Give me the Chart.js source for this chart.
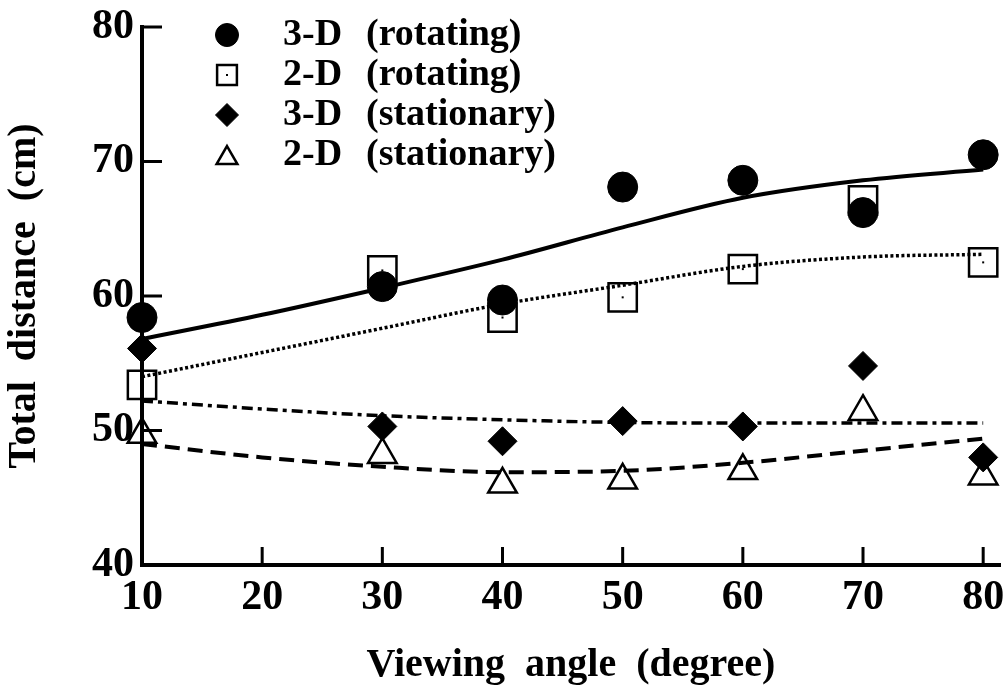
<!DOCTYPE html>
<html>
<head>
<meta charset="utf-8">
<script src="https://cdn.jsdelivr.net/npm/chart.js@4/dist/chart.umd.min.js"></script>
<style>
  html, body { margin: 0; padding: 0; background: #fff; }
  #wrap { width: 1004px; height: 688px; }
</style>
</head>
<body>
<div id="wrap"><canvas id="chart" width="1004" height="688"></canvas></div>
<script>
// Total distance vs viewing angle · four display conditions

const angles = [10, 30, 40, 50, 60, 70, 80];
const rot3d = [58.4, 60.7, 59.7, 68.1, 68.6, 66.2, 70.5];
const rot2d = [53.4, 61.9, 58.4, 59.9, 62.0, 67.1, 62.5];
const sta3d = [56.1, 50.3, 49.2, 50.7, 50.3, 54.8, 48.0];
const sta2d = [49.7, 48.2, 46.0, 46.3, 47.0, 51.4, 46.6];

// fitted curves
const fitAngles = [10, 20, 30, 40, 50, 60, 70, 80];
const fitRot3d = [56.8, 58.6, 60.6, 62.7, 65.1, 67.3, 68.6, 69.4];
const fitRot2d = [54.0, 55.8, 57.6, 59.4, 60.8, 62.2, 62.9, 63.1];
const fitSta3d = [52.2, 51.6, 51.1, 50.8, 50.6, 50.55, 50.55, 50.55];
const fitSta2d = [49.0, 48.0, 47.3, 46.9, 47.0, 47.6, 48.5, 49.4];

const xTicks = [10, 20, 30, 40, 50, 60, 70, 80];
const yTicks = [40, 50, 60, 70, 80];
const seriesNames = ['3-D  (rotating)', '2-D  (rotating)', '3-D  (stationary)', '2-D  (stationary)'];

const SERIF = '"Liberation Serif", "DejaVu Serif", serif';
const pts = (ys) => angles.map((a, i) => ({ x: a, y: ys[i] }));
const fit = (ys) => fitAngles.map((a, i) => ({ x: a, y: ys[i] }));

// marker look per series (same order as seriesNames)
const MARKERS = [
  { pointStyle: 'circle',   radius: 15,   fill: '#000',          lw: 1,   legendR: 11.5 },
  { pointStyle: 'rect',     radius: 20,   fill: 'rgba(0,0,0,0)', lw: 2.5, legendR: 14 },
  { pointStyle: 'rectRot',  radius: 14.5, fill: '#000',          lw: 1,   legendR: 11.5 },
  { pointStyle: 'triangle', radius: 16.5, fill: 'rgba(0,0,0,0)', lw: 2.5, legendR: 12 },
];

function markerSet(i, ys, order) {
  const m = MARKERS[i];
  return {
    label: seriesNames[i], data: pts(ys), showLine: false, order, clip: false,
    pointStyle: m.pointStyle, pointRadius: m.radius, pointHoverRadius: m.radius,
    pointBackgroundColor: m.fill, pointBorderColor: '#000', pointBorderWidth: m.lw,
  };
}

function fitSet(ys, dash, width, order) {
  return {
    label: 'fit', data: fit(ys), showLine: true, order, clip: false,
    borderColor: '#000', borderWidth: width, borderDash: dash,
    pointRadius: 0, tension: 0.4, cubicInterpolationMode: 'monotone', fill: false,
  };
}

// inward tick marks, drawn from the scales
const innerTicks = {
  id: 'innerTicks',
  beforeDatasetsDraw(chart) {
    const { x, y } = chart.scales;
    const ctx = chart.ctx;
    ctx.save();
    ctx.strokeStyle = '#000';
    ctx.lineWidth = 3;
    ctx.beginPath();
    yTicks.slice(1).forEach(v => {
      const py = y.getPixelForValue(v);
      ctx.moveTo(x.left, py); ctx.lineTo(x.left + 20, py);
    });
    xTicks.slice(1).forEach(v => {
      const px = x.getPixelForValue(v);
      ctx.moveTo(px, y.bottom); ctx.lineTo(px, y.bottom - 18);
    });
    ctx.stroke();
    ctx.restore();
  },
  // small centre dot of the open squares (dataset 0)
  afterDatasetsDraw(chart) {
    const ctx = chart.ctx;
    const meta = chart.getDatasetMeta(0);
    ctx.save();
    ctx.fillStyle = '#000';
    meta.data.forEach(p => ctx.fillRect(p.x - 1, p.y - 1, 2, 2));
    ctx.restore();
  },
};

// legend in the upper-left, as in the figure
const paperLegend = {
  id: 'paperLegend',
  afterDraw(chart) {
    const ctx = chart.ctx;
    ctx.save();
    seriesNames.forEach((name, i) => {
      const m = MARKERS[i];
      const cy = 35 + i * 40;
      ctx.fillStyle = m.fill;
      ctx.strokeStyle = '#000';
      ctx.lineWidth = m.lw;
      Chart.helpers.drawPoint(ctx, { pointStyle: m.pointStyle, radius: m.legendR, rotation: 0, borderWidth: m.lw }, 227, cy + (m.pointStyle === 'triangle' ? 3 : 0));
      if (i === 1) { ctx.fillStyle = '#000'; ctx.fillRect(226, cy - 1, 2, 2); }
      const [kind, mode] = name.split('  ');
      ctx.fillStyle = '#000';
      ctx.font = `bold 38px ${SERIF}`;
      ctx.textBaseline = 'middle';
      ctx.fillText(kind, 283, cy);
      ctx.fillText(mode, 366, cy);
    });
    ctx.restore();
  },
};

new Chart(document.getElementById('chart'), {
  type: 'scatter',
  data: {
    datasets: [
      markerSet(1, rot2d, 6),
      markerSet(3, sta2d, 5),
      markerSet(0, rot3d, 4),
      markerSet(2, sta3d, 3),
      fitSet(fitRot3d, [], 4, 10),
      fitSet(fitRot2d, [3, 2.5], 3.5, 11),
      fitSet(fitSta3d, [11, 5, 4, 5], 3.5, 12),
      fitSet(fitSta2d, [15, 8], 4, 13),
    ],
  },
  plugins: [innerTicks, paperLegend],
  options: {
    responsive: false,
    devicePixelRatio: 1,
    animation: false,
    layout: { autoPadding: false, padding: { top: 27, right: 4, left: 0, bottom: 0 } },
    plugins: { legend: { display: false }, tooltip: { enabled: false } },
    scales: {
      x: {
        type: 'linear', min: 10, max: 81.4,
        afterBuildTicks: s => { s.ticks = xTicks.map(v => ({ value: v })); },
        afterFit: s => { s.height = 123; s.paddingLeft = 0; s.paddingRight = 0; },
        grid: { display: false, drawTicks: false },
        border: { display: true, color: '#000', width: 4 },
        ticks: { color: '#000', padding: 8, maxRotation: 0, autoSkip: false, font: { family: SERIF, size: 42, weight: 'bold' } },
        title: { display: true, text: 'Viewing  angle  (degree)', color: '#000', padding: { top: 0, bottom: 0 }, font: { family: SERIF, size: 40, weight: 'bold', lineHeight: 1.1 } },
      },
      y: {
        type: 'linear', min: 40, max: 80,
        afterBuildTicks: s => { s.ticks = yTicks.map(v => ({ value: v })); },
        afterFit: s => { s.width = 142; s.paddingTop = 0; s.paddingBottom = 0; },
        grid: { display: false, drawTicks: false },
        border: { display: true, color: '#000', width: 4 },
        ticks: { color: '#000', padding: 8, autoSkip: false, font: { family: SERIF, size: 42, weight: 'bold' } },
        title: { display: true, text: 'Total  distance  (cm)', color: '#000', padding: { top: 3, bottom: 0 }, font: { family: SERIF, size: 40, weight: 'bold', lineHeight: 1.1 } },
      },
    },
  },
});
</script>
</body>
</html>
